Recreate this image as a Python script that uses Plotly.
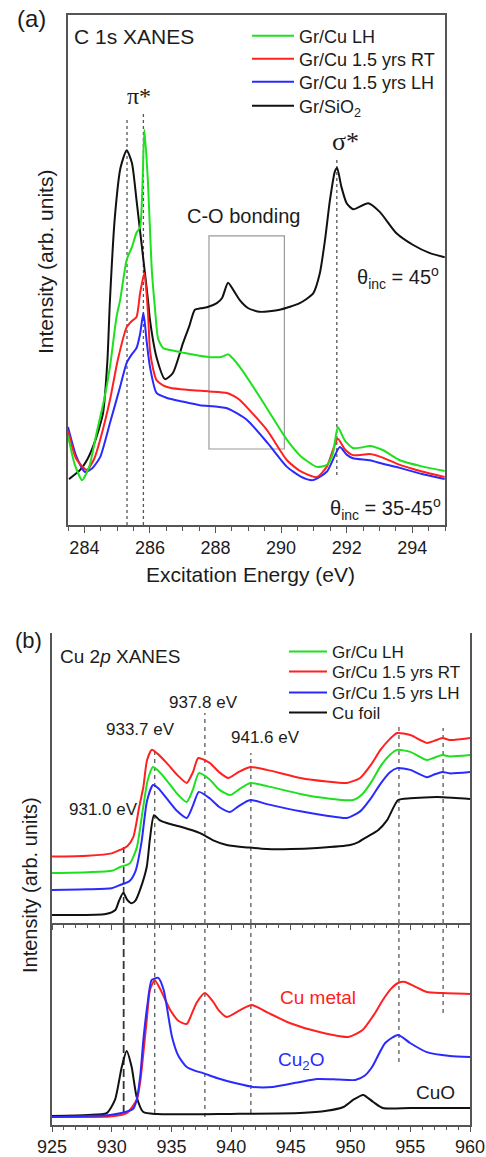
import plotly.graph_objects as go

W, H = 486, 1157
FONT = "Liberation Sans, Arial, sans-serif"
SERIF = "Liberation Serif, Times New Roman, serif"
TXT = "#1c1c1c"
AX = "#555555"
GREEN, RED, BLUE, BLACK = "#1ee01e", "#ff2020", "#2a2aff", "#111111"

# ---------------- Panel (a): C 1s XANES ----------------
A_LH_E = [283.50, 283.70, 283.93, 284.15, 284.37, 284.60, 284.78, 284.98, 285.09, 285.29, 285.45, 285.59,
          285.70, 285.83, 285.94, 286.05, 286.15, 286.25, 286.40, 286.61, 287.00, 287.50, 287.92, 288.20,
          288.38, 288.55, 288.74, 289.35, 289.80, 290.18, 290.60, 291.09, 291.40, 291.58, 291.73, 291.95,
          292.19, 292.45, 292.71, 293.10, 293.62, 294.30, 294.99]
A_LH_I = [1.75, 1.20, 0.88, 1.15, 1.80, 2.45, 3.10, 4.08, 4.41, 5.20, 5.45, 5.73,
          5.84, 7.75, 6.71, 5.06, 4.27, 3.65, 3.47, 3.43, 3.38, 3.32, 3.29, 3.30,
          3.35, 3.25, 3.10, 2.51, 2.05, 1.67, 1.35, 1.14, 1.18, 1.40, 1.92, 1.65,
          1.51, 1.52, 1.55, 1.47, 1.27, 1.15, 1.06]

A_RT_E = [283.50, 283.75, 284.07, 284.30, 284.48, 284.78, 285.02, 285.29, 285.45, 285.59, 285.70, 285.83,
          285.94, 286.00, 286.10, 286.20, 286.40, 286.61, 287.13, 287.80, 288.35, 288.55, 288.74, 289.57,
          290.18, 290.60, 291.09, 291.40, 291.73, 291.95, 292.19, 292.71, 293.10, 293.62, 294.30, 294.99]
A_RT_I = [1.85, 1.30, 1.08, 1.30, 1.67, 2.45, 3.24, 3.88, 4.00, 4.08, 4.55, 4.94,
          4.16, 3.43, 3.05, 2.84, 2.74, 2.69, 2.65, 2.62, 2.59, 2.53, 2.45, 1.86,
          1.27, 1.05, 0.94, 1.15, 1.69, 1.48, 1.37, 1.39, 1.32, 1.18, 1.05, 0.94]

A_OLDLH_E = [283.50, 283.75, 284.02, 284.25, 284.48, 284.78, 285.09, 285.29, 285.45, 285.59, 285.70, 285.80,
             285.90, 286.00, 286.20, 286.52, 287.00, 287.52, 288.35, 288.96, 289.60, 290.18, 290.60, 290.97,
             291.40, 291.79, 292.00, 292.19, 292.71, 293.10, 293.62, 294.30, 294.99]
A_OLDLH_I = [1.92, 1.35, 1.04, 1.12, 1.33, 2.00, 2.71, 3.18, 3.35, 3.47, 3.75, 4.16,
             3.60, 3.10, 2.59, 2.49, 2.42, 2.35, 2.29, 2.06, 1.60, 1.14, 0.95, 0.88,
             1.05, 1.53, 1.38, 1.31, 1.27, 1.20, 1.12, 1.00, 0.90]

A_SIO2_E = [283.53, 283.87, 284.10, 284.26, 284.45, 284.57, 284.70, 284.78, 284.93, 285.10, 285.29, 285.45,
            285.59, 285.80, 285.94, 286.00, 286.20, 286.46, 286.70, 287.01, 287.20, 287.37, 287.55, 287.74,
            288.04, 288.20, 288.38, 288.55, 288.74, 289.00, 289.35, 289.96, 290.57, 290.98, 291.18, 291.34,
            291.49, 291.64, 291.71, 291.84, 292.00, 292.20, 292.66, 293.01, 293.52, 294.03, 294.54, 294.99]
A_SIO2_I = [0.90, 1.08, 1.30, 1.53, 1.90, 2.20, 3.20, 4.41, 6.04, 7.00, 7.35, 7.10,
            6.37, 5.20, 4.41, 4.02, 3.29, 2.86, 2.98, 3.57, 3.90, 4.22, 4.25, 4.27,
            4.35, 4.45, 4.75, 4.60, 4.41, 4.25, 4.18, 4.22, 4.35, 4.54, 4.93, 5.59,
            6.37, 6.93, 7.00, 6.63, 6.31, 6.19, 6.31, 6.14, 5.72, 5.49, 5.33, 5.25]

A_GUIDE_E = [285.3, 285.8, 291.7]
A_GUIDE_LO = [0.0, 0.0, 0.98]
A_GUIDE_HI = [8.0, 8.08, 7.2]
CO_BOX = [287.8, 290.1, 1.49, 5.67]   # x0, x1, y0, y1

# ---------------- Panel (b): Cu 2p XANES (upper) ----------------
B_LH_E = [925.0, 928.0, 930.0, 930.7, 931.5, 932.1, 932.6, 933.0, 933.45, 933.9, 934.6, 935.5, 936.28,
          936.8, 937.3, 938.2, 939.0, 939.9, 940.7, 941.6, 943.0, 945.8, 948.0, 950.2, 951.0, 951.8,
          952.5, 953.3, 953.9, 955.0, 956.4, 957.0, 957.7, 958.3, 960.0]
B_LH_I = [1.72, 1.75, 1.80, 1.93, 2.05, 2.60, 3.90, 4.90, 5.38, 5.25, 4.92, 4.45, 4.17,
          4.60, 5.17, 4.95, 4.60, 4.41, 4.62, 4.83, 4.72, 4.45, 4.30, 4.24, 4.45, 4.90,
          5.40, 5.80, 5.97, 5.90, 5.62, 5.70, 5.79, 5.74, 5.79]

B_RT_E = [925.0, 928.0, 930.0, 930.7, 931.3, 931.8, 932.3, 932.65, 932.95, 933.35, 933.8, 934.6, 935.5,
          936.28, 936.8, 937.25, 938.2, 939.0, 939.75, 940.6, 941.6, 943.0, 945.8, 948.0, 949.7, 950.8,
          951.7, 952.5, 953.3, 953.9, 955.0, 956.4, 957.0, 957.7, 958.3, 960.0]
B_RT_I = [2.29, 2.32, 2.40, 2.52, 2.65, 2.95, 4.00, 4.69, 5.60, 5.97, 5.85, 5.52, 5.10,
          4.83, 5.20, 5.69, 5.52, 5.20, 5.00, 5.20, 5.38, 5.28, 5.00, 4.88, 4.83, 5.00,
          5.45, 5.97, 6.35, 6.55, 6.48, 6.21, 6.28, 6.38, 6.31, 6.38]

B_OLDLH_E = [925.0, 928.0, 930.0, 930.7, 931.5, 932.0, 932.5, 932.95, 933.45, 933.9, 934.6, 935.5, 936.28,
             936.8, 937.3, 938.2, 939.0, 939.9, 940.7, 941.6, 943.0, 945.8, 948.0, 949.7, 950.8, 951.7,
             952.5, 953.3, 953.9, 955.0, 956.4, 957.0, 957.7, 958.3, 960.0]
B_OLDLH_I = [1.14, 1.16, 1.20, 1.31, 1.45, 1.80, 2.80, 4.20, 4.76, 4.65, 4.30, 3.85, 3.62,
             4.05, 4.52, 4.30, 4.00, 3.83, 4.05, 4.24, 4.10, 3.85, 3.70, 3.62, 3.85, 4.30,
             4.80, 5.20, 5.34, 5.28, 5.03, 5.12, 5.21, 5.16, 5.21]

B_FOIL_E = [925.0, 929.5, 930.3, 930.6, 930.97, 931.3, 931.67, 932.0, 932.37, 932.93, 933.2, 933.54, 934.0,
            934.61, 935.2, 935.86, 937.4, 938.5, 939.63, 941.5, 943.0, 945.0, 947.2, 949.96, 950.7, 951.38,
            952.3, 953.06, 953.98, 955.0, 956.66, 957.75, 960.0]
B_FOIL_I = [0.28, 0.31, 0.45, 0.75, 1.04, 0.80, 0.68, 0.78, 1.14, 1.93, 2.90, 3.72, 3.55,
            3.45, 3.38, 3.31, 3.10, 2.85, 2.69, 2.60, 2.55, 2.55, 2.59, 2.69, 2.80, 2.97,
            3.20, 3.55, 4.24, 4.30, 4.34, 4.34, 4.28]

# ---------------- Panel (b): references (lower) ----------------
C_CU_E = [925.0, 928.0, 929.86, 931.25, 932.09, 932.4, 932.65, 932.95, 933.2, 933.6, 934.1, 934.9, 935.6,
          936.28, 936.7, 937.1, 937.8, 938.5, 939.0, 939.63, 940.75, 941.72, 942.97, 944.9, 947.4, 949.8,
          951.0, 952.0, 952.7, 953.4, 953.98, 954.56, 955.4, 956.38, 957.76, 960.0]
C_CU_I = [0.40, 0.40, 0.42, 0.59, 1.24, 2.20, 3.56, 5.30, 6.68, 7.18, 6.68, 5.69, 5.15,
          5.00, 5.50, 6.04, 6.53, 6.09, 5.65, 5.35, 5.69, 5.94, 5.59, 5.05, 4.60, 4.36,
          4.70, 5.50, 6.19, 6.75, 7.03, 7.08, 6.85, 6.58, 6.53, 6.49]

C_CU2O_E = [925.0, 928.0, 929.86, 931.0, 931.78, 932.09, 932.4, 932.65, 933.0, 933.35, 933.9, 934.35, 935.05,
            935.6, 936.28, 937.0, 937.65, 938.8, 940.5, 941.85, 943.5, 945.77, 947.2, 949.0, 950.4, 951.2,
            951.8, 952.9, 953.98, 954.98, 956.38, 958.33, 960.0]
C_CU2O_I = [0.40, 0.45, 0.50, 0.62, 0.79, 1.24, 2.50, 4.21, 6.00, 7.18, 7.28, 6.68, 4.36,
            3.40, 2.87, 2.68, 2.57, 2.33, 2.05, 1.88, 1.88, 2.13, 2.28, 2.25, 2.23, 2.45,
            2.87, 4.06, 4.46, 4.06, 3.61, 3.42, 3.37]

C_CUO_E = [925.0, 928.0, 929.58, 930.27, 930.84, 931.25, 931.67, 932.09, 932.65, 933.77, 940.0, 945.77,
           948.0, 949.4, 950.21, 951.05, 951.9, 952.7, 955.0, 960.0]
C_CUO_I = [0.45, 0.50, 0.59, 1.24, 2.87, 3.66, 2.87, 1.39, 0.64, 0.54, 0.55, 0.59,
           0.70, 0.89, 1.24, 1.49, 1.14, 0.84, 0.84, 0.84]

B_GUIDE_E = [931.0, 933.6, 937.8, 941.65, 954.05, 957.75]
B_UP_LO = [0.0, 0.0, 0.0, 0.0, 0.0, 0.0]
B_UP_HI = [2.62, 6.07, 7.24, 5.86, 6.83, 6.72]
B_LOW_LO = [0.59, 0.59, 0.40, 0.59, 3.12, 5.54]
B_LOW_HI = [10.0, 10.0, 10.0, 10.0, 10.0, 10.0]

fig = go.Figure()


def curve(x, y, color, name, xa, ya, legend=None, show=True):
    fig.add_trace(go.Scatter(x=x, y=y, mode="lines", name=name, xaxis=xa, yaxis=ya,
                             line=dict(color=color, width=2, shape="spline", smoothing=0.6),
                             showlegend=show, legend=legend, hoverinfo="skip"))


def guides(xs, lo, hi, xa, ya, color, dash, width):
    for e, a, b in zip(xs, lo, hi):
        fig.add_trace(go.Scatter(x=[e, e], y=[a, b], mode="lines", xaxis=xa, yaxis=ya,
                                 line=dict(color=color, width=width, dash=dash),
                                 showlegend=False, hoverinfo="skip"))


# panel (a)
guides(A_GUIDE_E, A_GUIDE_LO, A_GUIDE_HI, "x", "y", "#555555", "3px,3px", 1.3)
curve(A_SIO2_E, A_SIO2_I, BLACK, "Gr/SiO<sub>2</sub>", "x", "y", "legend4")
curve(A_OLDLH_E, A_OLDLH_I, BLUE, "Gr/Cu 1.5 yrs LH", "x", "y", "legend3")
curve(A_RT_E, A_RT_I, RED, "Gr/Cu 1.5 yrs RT", "x", "y", "legend2")
curve(A_LH_E, A_LH_I, GREEN, "Gr/Cu LH", "x", "y", "legend")

# panel (b) upper
guides(B_GUIDE_E[:1], B_UP_LO[:1], B_UP_HI[:1], "x2", "y2", "#333333", "6px,4px", 1.6)
guides(B_GUIDE_E[1:], B_UP_LO[1:], B_UP_HI[1:], "x2", "y2", "#666666", "4px,4px", 1.4)
curve(B_FOIL_E, B_FOIL_I, BLACK, "Cu foil", "x2", "y2", "legend8")
curve(B_OLDLH_E, B_OLDLH_I, BLUE, "Gr/Cu 1.5 yrs LH", "x2", "y2", "legend7")
curve(B_LH_E, B_LH_I, GREEN, "Gr/Cu LH", "x2", "y2", "legend5")
curve(B_RT_E, B_RT_I, RED, "Gr/Cu 1.5 yrs RT", "x2", "y2", "legend6")

# panel (b) lower
guides(B_GUIDE_E[:1], B_LOW_LO[:1], B_LOW_HI[:1], "x3", "y3", "#333333", "8px,4px", 1.8)
guides(B_GUIDE_E[1:], B_LOW_LO[1:], B_LOW_HI[1:], "x3", "y3", "#666666", "4px,4px", 1.4)
curve(C_CUO_E, C_CUO_I, BLACK, "CuO", "x3", "y3", show=False)
curve(C_CU_E, C_CU_I, RED, "Cu metal", "x3", "y3", show=False)
curve(C_CU2O_E, C_CU2O_I, BLUE, "Cu2O", "x3", "y3", show=False)

fig.add_shape(type="rect", xref="x", yref="y", x0=CO_BOX[0], x1=CO_BOX[1], y0=CO_BOX[2], y1=CO_BOX[3],
              line=dict(color="#9a9a9a", width=1.2), layer="below")

XA = [68 / W, 445 / W]
YA = [1 - 525 / H, 1 - 15 / H]
XB = [52 / W, 470 / W]
YB_UP = [1 - 923 / H, 1 - 633 / H]
YB_LOW = [1 - 1125 / H, 1 - 923 / H]

tickfont = dict(family=FONT, size=18, color=TXT)


def xax(domain, anchor, rng, tick0, dtick, mdtick, ticks, mticks, tlen, mlen, labels, side="bottom",
        overlaying=None, showline=True, mirror=False):
    d = dict(domain=domain, anchor=anchor, range=rng, tick0=tick0, dtick=dtick, ticks=ticks,
             ticklen=tlen, tickwidth=1.3, tickcolor=AX, showticklabels=labels, tickfont=tickfont,
             showline=showline, linecolor=AX, linewidth=1.5, mirror=mirror, side=side,
             showgrid=False, zeroline=False, automargin=False,
             minor=dict(dtick=mdtick, tick0=tick0, ticks=mticks, ticklen=mlen, tickwidth=1.2,
                        tickcolor=AX, showgrid=False))
    if overlaying:
        d["overlaying"] = overlaying
    return d


def yax(domain, anchor):
    return dict(domain=domain, anchor=anchor, range=[0, 10], showticklabels=False, ticks="",
                showline=True, linecolor=AX, linewidth=1.5, mirror=True, showgrid=False, zeroline=False,
                automargin=False)


def leg(xpx, ypx, size, width):
    return dict(x=xpx / W, y=1 - ypx / H, xanchor="left", yanchor="middle", bgcolor="rgba(0,0,0,0)",
                font=dict(family=FONT, size=size, color=TXT), itemwidth=width, tracegroupgap=0)


fig.update_layout(
    width=W, height=H, margin=dict(l=0, r=0, t=0, b=0, autoexpand=False),
    paper_bgcolor="white", plot_bgcolor="white",
    font=dict(family=FONT, color=TXT),
    xaxis=xax(XA, "y", [283.5, 295], 284, 2, 0.5, "outside", "outside", 6, 4, True, mirror=True),
    xaxis4=xax(XA, "y", [283.5, 295], 284, 2, 0.5, "inside", "inside", 5, 3, False, side="top",
               overlaying="x", showline=False),
    yaxis=yax(YA, "x"),
    xaxis2=xax(XB, "y2", [925, 960], 925, 5, 1, "outside", "outside", 5, 3, False),
    xaxis5=xax(XB, "y2", [925, 960], 925, 5, 1, "inside", "inside", 5, 3, False, side="top",
               overlaying="x2"),
    yaxis2=yax(YB_UP, "x2"),
    xaxis3=xax(XB, "y3", [925, 960], 925, 5, 1, "outside", "outside", 5, 3, True),
    xaxis6=xax(XB, "y3", [925, 960], 925, 5, 1, "inside", "inside", 5, 3, False, overlaying="x3",
               showline=False),
    xaxis7=xax(XB, "y3", [925, 960], 925, 5, 1, "outside", "outside", 5, 3, False, side="top",
               overlaying="x3"),
    yaxis3=yax(YB_LOW, "x3"),
    legend=leg(247, 36, 18, 42),
    legend2=leg(247, 59, 18, 42),
    legend3=leg(247, 82, 18, 42),
    legend4=leg(247, 106, 18, 42),
    legend5=leg(284, 652, 17, 38),
    legend6=leg(284, 672, 17, 38),
    legend7=leg(284, 693, 17, 38),
    legend8=leg(284, 713, 17, 38),
)


def A(text, x, y, size, color=TXT, xanchor="center", family=FONT, angle=0):
    return dict(text=text, x=x / W, y=1 - y / H, xref="paper", yref="paper", xanchor=xanchor,
                yanchor="middle", showarrow=False, textangle=angle,
                font=dict(size=size, color=color, family=family))


fig.update_layout(annotations=[
    A("(a)", 31, 19, 24),
    A("C 1s XANES", 72, 37, 21, xanchor="left"),
    A("π*", 139, 96, 24, family=SERIF),
    A("σ*", 345, 141, 26, family=SERIF),
    A("C-O bonding", 243, 216, 20),
    A("θ<sub>inc</sub> = 45<sup>o</sup>", 441, 278, 20, xanchor="right"),
    A("θ<sub>inc</sub> = 35-45<sup>o</sup>", 443, 508, 20, xanchor="right"),
    A("Intensity (arb. units)", 45, 262, 21, angle=-90),
    A("Excitation Energy (eV)", 250, 574, 21),
    A("(b)", 28, 640, 22),
    A("Cu 2<i>p</i> XANES", 58, 656, 19, xanchor="left"),
    A("937.8 eV", 203, 702, 17),
    A("933.7 eV", 140, 729, 17),
    A("941.6 eV", 265, 737, 17),
    A("931.0 eV", 103, 809, 17),
    A("Cu metal", 318, 997, 19, color=RED),
    A("Cu<sub>2</sub>O", 301, 1061, 19, color=BLUE),
    A("CuO", 435, 1092, 19),
    A("Intensity (arb. units)", 30, 885, 20, angle=-90),
])

fig.write_html("out.html", config={"displayModeBar": False},
               post_script="document.body.style.margin='0';document.body.style.overflow='hidden';")
